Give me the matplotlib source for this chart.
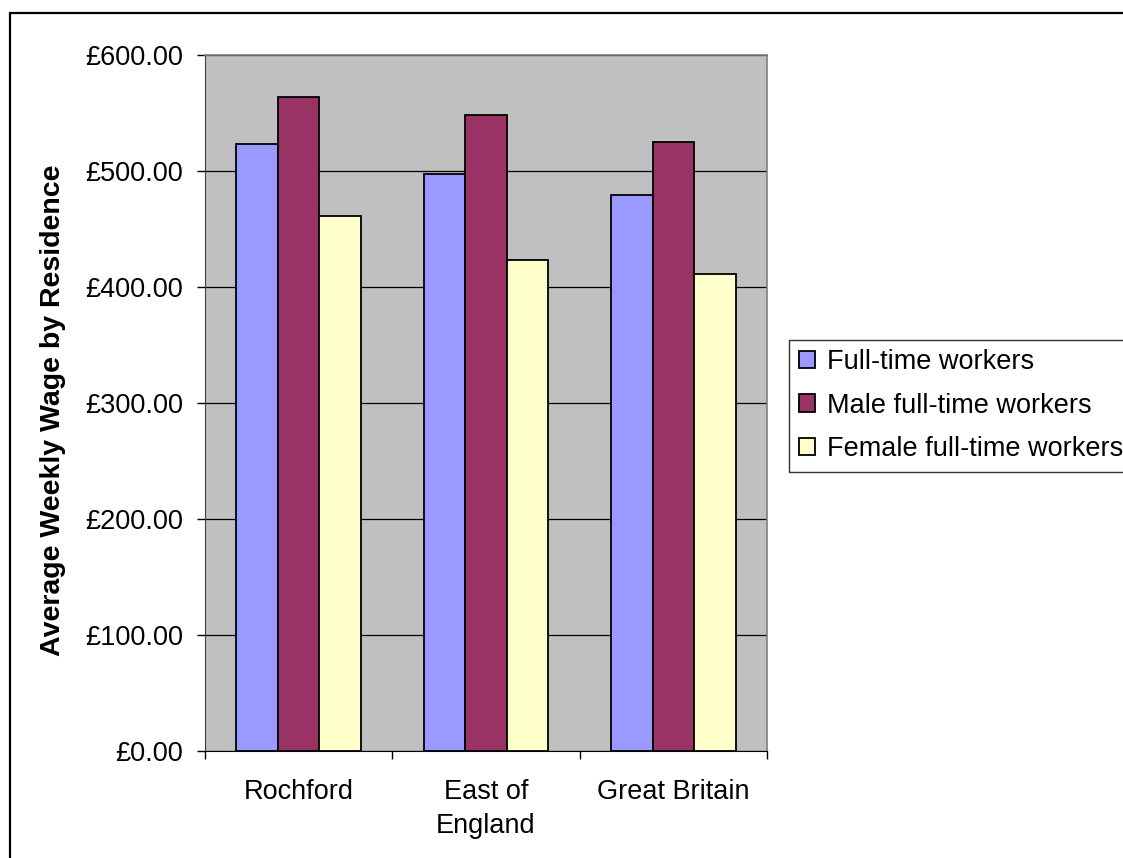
import numpy as np
import matplotlib
matplotlib.use("Agg")
import matplotlib.pyplot as plt
from matplotlib.patches import Rectangle
from matplotlib.ticker import FuncFormatter

plt.rcParams['font.family'] = ['Liberation Sans', 'DejaVu Sans']

areas = ["Rochford", "East of\nEngland", "Great Britain"]
series_names = ["Full-time workers", "Male full-time workers", "Female full-time workers"]
full_time = [523.2, 497.7, 479.0]
male_full_time = [563.8, 548.5, 525.0]
female_full_time = [461.0, 423.5, 411.5]
colors = ["#9999FF", "#993366", "#FFFFCC"]

W, H = 1123, 858
fig = plt.figure(figsize=(W / 100, H / 100), dpi=100)

# outer chart border (runs off the right and bottom edges)
fig.patches.append(Rectangle((10 / W, -0.1), 1.2, 1 - 12.5 / H + 0.1,
                             transform=fig.transFigure, fill=False,
                             edgecolor="black", linewidth=1.6))

ax = fig.add_axes([205 / W, 1 - 751 / H, (767 - 205) / W, (751 - 55) / H])
ax.set_facecolor("#C0C0C0")

x = np.arange(len(areas))
w = 1 / 4.5
for i, (vals, name) in enumerate(zip([full_time, male_full_time, female_full_time], series_names)):
    ax.bar(x + (i - 1) * w, vals, width=w, color=colors[i], edgecolor="black",
           linewidth=1.3, label=name, zorder=3)

ax.set_xlim(-0.5, len(areas) - 0.5)
ax.set_ylim(0, 600)
ax.set_yticks(np.arange(0, 601, 100))
ax.yaxis.set_major_formatter(FuncFormatter(lambda v, p: "£{:,.2f}".format(v)))
ax.grid(axis="y", color="black", linewidth=0.9, zorder=1)

ax.set_xticks(x)
ax.set_xticklabels(areas, fontsize=19.5, linespacing=1.42)
ax.set_xticks(np.arange(-0.5, len(areas)), minor=True)
ax.tick_params(axis="x", which="major", length=0, pad=20)
ax.tick_params(axis="x", which="minor", length=6, width=1, direction="out")
ax.tick_params(axis="y", length=6, width=1, direction="out", pad=10, labelsize=19.5)

for side in ["top", "right"]:
    ax.spines[side].set_color("#808080")
    ax.spines[side].set_linewidth(1.2)
ax.spines["left"].set_color("#404040")
ax.spines["bottom"].set_color("black")

ax.set_ylabel("Average Weekly Wage by Residence", fontsize=20.5, fontweight="bold")
ax.yaxis.set_label_coords(-0.247, 0.49)

handles, labels = ax.get_legend_handles_labels()
leg = fig.legend(handles, labels, loc="upper left",
                 bbox_to_anchor=(789 / W, 1 - 339.5 / H), borderaxespad=0,
                 fontsize=19.5, frameon=True, fancybox=False, edgecolor="black",
                 handlelength=0.6, handleheight=0.6, handletextpad=0.45,
                 labelspacing=0.64, borderpad=0.36)
leg.get_frame().set_linewidth(1.0)

fig.savefig("out.png", dpi=100)
